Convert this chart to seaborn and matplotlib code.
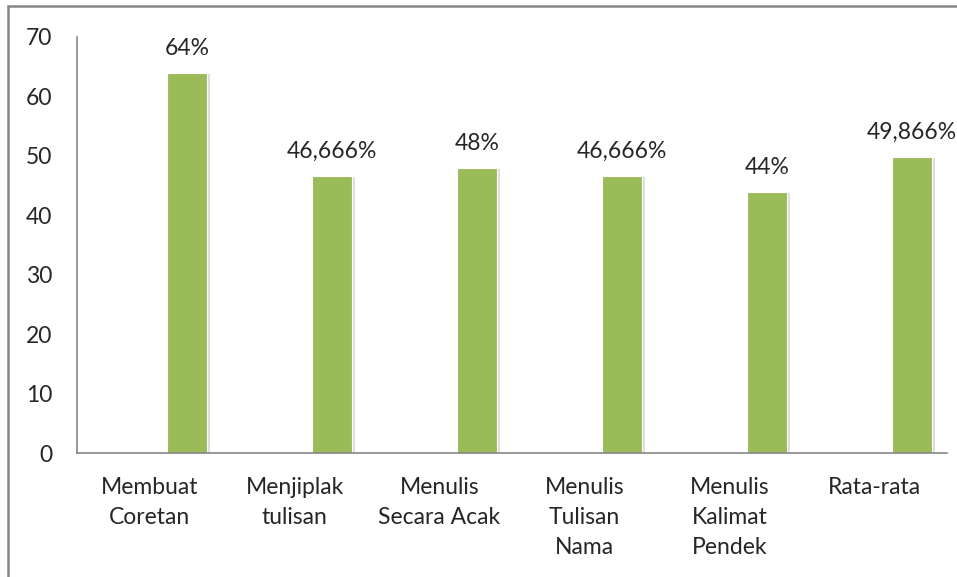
import numpy as np
import pandas as pd
import matplotlib
matplotlib.use("Agg")
import matplotlib.pyplot as plt
import matplotlib.patheffects as pe
from matplotlib.patches import Rectangle
import seaborn as sns

# Data
categories = ["Membuat\nCoretan", "Menjiplak\ntulisan", "Menulis\nSecara Acak",
              "Menulis\nTulisan\nNama", "Menulis\nKalimat\nPendek", "Rata-rata"]
values = [64, 46.666, 48, 46.666, 44, 49.866]
labels = ["64%", "46,666%", "48%", "46,666%", "44%", "49,866%"]

df = pd.DataFrame({"kategori": categories, "nilai": values})

sns.set_style("white")
plt.rcParams['font.family'] = ['Lato', 'DejaVu Sans']
fs = 16.5

fig = plt.figure(figsize=(9.57, 5.77), dpi=100)
ax = fig.add_axes([0.0805, 0.2149, 0.909, 0.721])

sns.barplot(data=df, x="kategori", y="nilai", color="#9BBB59", saturation=1,
            width=0.276, ax=ax)

# Excel style: bar sits in the right part of each category
for p in ax.patches:
    p.set_x(p.get_x() + 0.26)
    p.set_edgecolor("white")
    p.set_linewidth(0.8)
    p.set_path_effects([pe.SimplePatchShadow(offset=(2, -1), alpha=0.3,
                                             shadow_rgbFace="#909090"),
                        pe.Normal()])

for p, lab in zip(ax.patches, labels):
    ax.annotate(lab, (p.get_x() + p.get_width() / 2, p.get_height()),
                xytext=(0, 10), textcoords="offset points",
                ha="center", va="bottom", fontsize=fs)

ax.set_xlim(-0.5, len(categories) - 0.5)
ax.set_ylim(0, 70)
ax.set_yticks(range(0, 71, 10))
ax.set_xlabel("")
ax.set_ylabel("")
ax.tick_params(axis="y", length=0, pad=18, labelsize=fs)
ax.tick_params(axis="x", length=0, pad=17, labelsize=fs)
for lab in ax.get_xticklabels():
    lab.set_linespacing(1.55)

sns.despine(ax=ax, top=True, right=True)
ax.spines["left"].set_color("#868686")
ax.spines["bottom"].set_color("#868686")
ax.spines["left"].set_linewidth(1.2)
ax.spines["bottom"].set_linewidth(1.2)

# outer chart frame
fig.patches.append(Rectangle((8 / 957, -0.05), 1.05, 1 - 6 / 577 + 0.05,
                             transform=fig.transFigure, fill=False,
                             edgecolor="#868686", linewidth=1.8))

fig.savefig("out.png", dpi=100)
